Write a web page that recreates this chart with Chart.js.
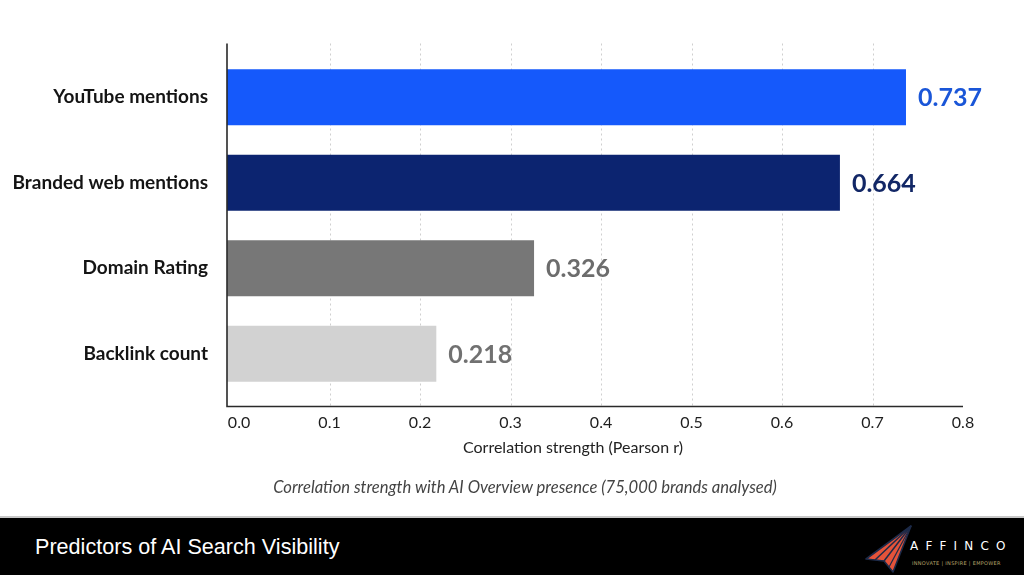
<!DOCTYPE html>
<html>
<head>
<meta charset="utf-8">
<script src="https://cdn.jsdelivr.net/npm/chart.js@4.4.1/dist/chart.umd.min.js"></script>
<style>
  html, body { margin: 0; padding: 0; background: #ffffff; }
  #wrap { position: relative; width: 1024px; height: 575px; overflow: hidden; background: #fff; }
  #chartBox { position: absolute; left: 0; top: 0; width: 1024px; height: 517px; }
  .axisTitle { position: absolute; left: 373px; width: 400px; top: 437px; text-align: center;
    font-family: Lato, "Open Sans", sans-serif; font-size: 16px; color: #222; }
  .caption { position: absolute; left: 175px; width: 700px; top: 477px; text-align: center;
    font-family: Lato, "Open Sans", sans-serif; font-style: italic; font-size: 16.6px; color: #444; }
  #banner { position: absolute; left: 0; top: 516px; width: 1024px; height: 59px; background: #000;
    border-top: 2px solid #c8c8c8; box-sizing: border-box; }
  .bTitle { position: absolute; left: 35px; top: 16px; color: #fff;
    font-family: "Liberation Sans", Arial, sans-serif; font-size: 21.6px; }
  .logoText { position: absolute; left: 910px; top: 21px; color: #fff; font-family: "DejaVu Sans", sans-serif;
    font-size: 12px; letter-spacing: 7.2px; }
  .tagline { position: absolute; left: 912px; top: 42px; color: #b8a56c; font-family: "DejaVu Sans", sans-serif;
    font-size: 5px; letter-spacing: 0.3px; white-space: nowrap; }
  #plane { position: absolute; left: 0; top: 0; }
</style>
</head>
<body>
<div id="wrap">
  <div id="chartBox"><canvas id="c" width="1024" height="517"></canvas></div>
  <div class="axisTitle">Correlation strength (Pearson r)</div>
  <div class="caption">Correlation strength with AI Overview presence (75,000 brands analysed)</div>
  <div id="banner">
    <div class="bTitle">Predictors of AI Search Visibility</div>
    <svg id="plane" width="1024" height="59" viewBox="0 0 1024 59">
      <polygon points="911,8 866,41 884,43 893,54" fill="#e5533a" stroke="#1c2a48" stroke-width="1.6" stroke-linejoin="round"/>
      <line x1="911" y1="8" x2="875" y2="42" stroke="#1c2a48" stroke-width="1.5"/>
      <line x1="911" y1="8" x2="884" y2="43" stroke="#1c2a48" stroke-width="1.5"/>
      <line x1="911" y1="8" x2="889" y2="49" stroke="#1c2a48" stroke-width="1.2"/>
    </svg>
    <div class="logoText">AFFINCO</div>
    <div class="tagline">INNOVATE | INSPIRE | EMPOWER</div>
  </div>
</div>
<script>
const categories = ['YouTube mentions', 'Branded web mentions', 'Domain Rating', 'Backlink count'];
const values = [0.737, 0.664, 0.326, 0.218];
const valueLabels = ['0.737', '0.664', '0.326', '0.218'];
const xTickValues = [0, 0.1, 0.2, 0.3, 0.4, 0.5, 0.6, 0.7, 0.8];
const gridValues = [0.1, 0.2, 0.3, 0.4, 0.5, 0.6, 0.7];
const barColors = ['#1559fb', '#0c2470', '#777777', '#d2d2d2'];
const labelColors = ['#1a56d8', '#122766', '#6c6c6c', '#717171'];
const X_MIN = -0.0133;
const X_MAX = 0.8;

const decorPlugin = {
  id: 'decor',
  beforeDatasetsDraw(chart) {
    const ctx = chart.ctx, x = chart.scales.x, a = chart.chartArea;
    ctx.save();
    ctx.strokeStyle = '#cfcfcf';
    ctx.lineWidth = 1;
    ctx.setLineDash([2, 3]);
    gridValues.forEach(v => {
      const px = Math.round(x.getPixelForValue(v)) + 0.5;
      ctx.beginPath();
      ctx.moveTo(px, a.top - 11);
      ctx.lineTo(px, a.bottom + 9);
      ctx.stroke();
    });
    ctx.restore();
  },
  afterDatasetsDraw(chart) {
    const ctx = chart.ctx, x = chart.scales.x, a = chart.chartArea;
    const meta = chart.getDatasetMeta(0);
    ctx.save();
    ctx.font = '700 25px Lato, "Open Sans", sans-serif';
    ctx.textBaseline = 'middle';
    ctx.textAlign = 'left';
    meta.data.forEach((bar, i) => {
      ctx.fillStyle = labelColors[i];
      ctx.fillText(valueLabels[i], bar.x + 12, bar.y + 1);
    });
    ctx.strokeStyle = '#2a2a2a';
    ctx.lineWidth = 1.6;
    ctx.beginPath();
    ctx.moveTo(a.left, a.top - 11);
    ctx.lineTo(a.left, a.bottom + 10);
    ctx.lineTo(x.getPixelForValue(X_MAX), a.bottom + 10);
    ctx.stroke();
    ctx.restore();
  }
};

new Chart(document.getElementById('c'), {
  type: 'bar',
  data: {
    labels: categories,
    datasets: [{
      data: values,
      backgroundColor: barColors,
      borderWidth: 0,
      base: X_MIN,
      barPercentage: 0.655,
      categoryPercentage: 1.0
    }]
  },
  options: {
    indexAxis: 'y',
    responsive: false,
    animation: false,
    layout: { padding: { top: 54.5, right: 61, left: 0, bottom: 0 } },
    plugins: { legend: { display: false }, tooltip: { enabled: false } },
    scales: {
      x: {
        type: 'linear',
        min: X_MIN,
        max: X_MAX,
        afterBuildTicks(scale) { scale.ticks = xTickValues.map(v => ({ value: v })); },
        afterFit(scale) { scale.height = 517 - 396.5; },
        grid: { display: false, drawTicks: false },
        border: { display: false },
        ticks: {
          padding: 17,
          color: '#1e1e1e',
          font: { family: 'Lato, "Open Sans", sans-serif', size: 16 },
          callback: v => Number(v).toFixed(1),
          maxRotation: 0
        }
      },
      y: {
        afterFit(scale) { scale.width = 227; },
        grid: { display: false, drawTicks: false },
        border: { display: false },
        ticks: {
          padding: 19,
          color: '#141414',
          font: { family: 'Lato, "Open Sans", sans-serif', size: 19, weight: '700' }
        }
      }
    }
  },
  plugins: [decorPlugin]
});
</script>
</body>
</html>
